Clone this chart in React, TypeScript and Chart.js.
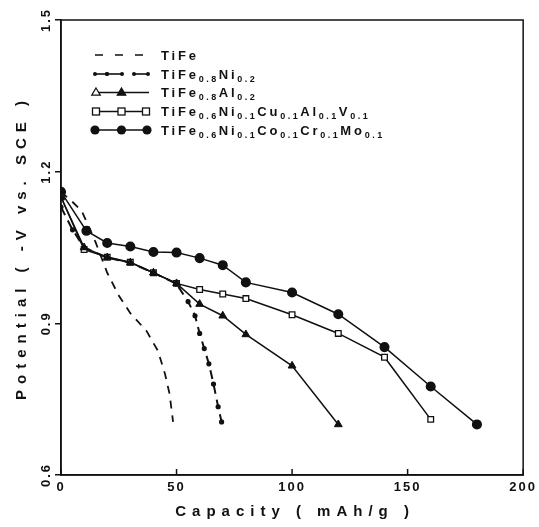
import React, { useEffect, useRef } from "react";
import { Chart, registerables } from "chart.js";

Chart.register(...registerables);

// ---- data ----
const xTickValues = [0, 50, 100, 150, 200];
const yTickValues = [0.6, 0.9, 1.2, 1.5];

const tifeCap = [0, 5, 9, 15, 20, 25, 30, 37, 42, 45, 47, 48.5];
const tifeV = [1.16, 1.14, 1.122, 1.06, 1.0, 0.955, 0.92, 0.885, 0.845, 0.8, 0.76, 0.705];

const niCap = [0, 5, 10, 20, 30, 40, 50, 55, 58, 60, 62, 64, 66, 68, 69.5];
const niV = [1.13, 1.085, 1.05, 1.03, 1.02, 1.0, 0.978, 0.943, 0.915, 0.88, 0.85, 0.82, 0.78, 0.735, 0.705];

const alCap = [0, 10, 20, 30, 40, 50, 60, 70, 80, 100, 120];
const alV = [1.15, 1.05, 1.03, 1.02, 1.0, 0.979, 0.938, 0.915, 0.878, 0.816, 0.7];

const cuCap = [0, 10, 20, 30, 40, 50, 60, 70, 80, 100, 120, 140, 160];
const cuV = [1.15, 1.046, 1.031, 1.021, 1.0, 0.979, 0.967, 0.958, 0.949, 0.917, 0.88, 0.833, 0.71];

const moCap = [0, 11, 20, 30, 40, 50, 60, 70, 80, 100, 120, 140, 160, 180];
const moV = [1.16, 1.083, 1.059, 1.052, 1.041, 1.04, 1.029, 1.015, 0.981, 0.961, 0.918, 0.853, 0.775, 0.7];

const seriesLabels = [
  "TiFe",
  "TiFe_{0.8}Ni_{0.2}",
  "TiFe_{0.8}Al_{0.2}",
  "TiFe_{0.6}Ni_{0.1}Cu_{0.1}Al_{0.1}V_{0.1}",
  "TiFe_{0.6}Ni_{0.1}Co_{0.1}Cr_{0.1}Mo_{0.1}",
];

const xTitle = "Capacity ( mAh/g )";
const yTitle = "Potential ( -V vs. SCE )";

const FONT = '"Liberation Sans", Arial, sans-serif';
const INK = "#111";

function pts(xs: number[], ys: number[]) {
  return xs.map((x, i) => ({ x, y: ys[i] }));
}

function plainLabel(s: string) {
  return s.replace(/_\{([^}]*)\}/g, "$1");
}

function parseLabel(s: string): { t: string; sub: boolean }[] {
  const out: { t: string; sub: boolean }[] = [];
  const re = /_\{([^}]*)\}|([^_]+)/g;
  let m: RegExpExecArray | null;
  while ((m = re.exec(s))) {
    if (m[1] !== undefined) out.push({ t: m[1], sub: true });
    else out.push({ t: m[2], sub: false });
  }
  return out;
}

function drawTri(ctx: CanvasRenderingContext2D, x: number, y: number, r: number, fill: boolean) {
  ctx.beginPath();
  ctx.moveTo(x, y - r);
  ctx.lineTo(x + r * 0.95, y + r * 0.6);
  ctx.lineTo(x - r * 0.95, y + r * 0.6);
  ctx.closePath();
  ctx.fillStyle = fill ? INK : "#fff";
  ctx.fill();
  ctx.stroke();
}

const decorPlugin = {
  id: "decor",
  beforeDraw(chart: any) {
    const ctx = chart.ctx as CanvasRenderingContext2D;
    (ctx as any).letterSpacing = "2px";
  },
  afterDraw(chart: any) {
    const ctx = chart.ctx as CanvasRenderingContext2D;
    const ca = chart.chartArea;
    ctx.save();
    (ctx as any).letterSpacing = "0px";
    ctx.strokeStyle = INK;
    ctx.lineWidth = 1.5;
    ctx.setLineDash([]);
    ctx.strokeRect(ca.left, ca.top, ca.right - ca.left, ca.bottom - ca.top);

    // inward ticks on x axis
    const xs = chart.scales.x;
    xs.ticks.forEach((t: any) => {
      const px = xs.getPixelForValue(t.value);
      ctx.beginPath();
      ctx.moveTo(px, ca.bottom);
      ctx.lineTo(px, ca.bottom - 6);
      ctx.stroke();
    });

    // axis titles
    ctx.fillStyle = INK;
    ctx.font = `bold 15px ${FONT}`;
    (ctx as any).letterSpacing = "6px";
    ctx.textAlign = "center";
    ctx.textBaseline = "middle";
    ctx.fillText(xTitle, (ca.left + ca.right) / 2 + 3, 512);
    ctx.save();
    ctx.translate(22, (ca.top + ca.bottom) / 2 + 3);
    ctx.rotate(-Math.PI / 2);
    ctx.fillText(yTitle, 3, 0);
    ctx.restore();

    // legend
    const rows = [55, 74, 92.5, 111.5, 130];
    const x0 = 95, x1 = 147, tx = 161;
    ctx.lineWidth = 1.6;
    ctx.strokeStyle = INK;
    ctx.fillStyle = INK;
    rows.forEach((ry, i) => {
      ctx.save();
      if (i === 0) {
        ctx.setLineDash([8, 12]);
        ctx.beginPath();
        ctx.moveTo(x0, ry);
        ctx.lineTo(x1, ry);
        ctx.stroke();
      } else if (i === 1) {
        const segs = [[95, 107], [107, 122], [134, 148]];
        segs.forEach(([a, b]) => {
          ctx.beginPath();
          ctx.moveTo(a, ry);
          ctx.lineTo(b, ry);
          ctx.stroke();
          [a, b].forEach((d) => {
            ctx.beginPath();
            ctx.arc(d, ry, 2, 0, Math.PI * 2);
            ctx.fill();
          });
        });
      } else if (i === 2) {
        ctx.beginPath();
        ctx.moveTo(x0, ry);
        ctx.lineTo(x1 + 2, ry);
        ctx.stroke();
        ctx.lineWidth = 1.2;
        drawTri(ctx, 96, ry, 4.5, false);
        drawTri(ctx, 121.5, ry, 4.5, true);
      } else if (i === 3) {
        ctx.beginPath();
        ctx.moveTo(x0, ry);
        ctx.lineTo(x1, ry);
        ctx.stroke();
        ctx.lineWidth = 1.3;
        [96, 121.5, 146].forEach((cx) => {
          ctx.fillStyle = "#fff";
          ctx.fillRect(cx - 3.5, ry - 3.5, 7, 7);
          ctx.strokeRect(cx - 3.5, ry - 3.5, 7, 7);
        });
      } else {
        ctx.beginPath();
        ctx.moveTo(x0, ry);
        ctx.lineTo(x1, ry);
        ctx.stroke();
        [95, 121.5, 147].forEach((cx) => {
          ctx.beginPath();
          ctx.arc(cx, ry, 4.6, 0, Math.PI * 2);
          ctx.fill();
        });
      }
      ctx.restore();

      // label text with subscripts
      let cx = tx;
      ctx.fillStyle = INK;
      ctx.textAlign = "left";
      ctx.textBaseline = "alphabetic";
      parseLabel(seriesLabels[i]).forEach((p) => {
        if (p.sub) {
          ctx.font = `bold 9px ${FONT}`;
          (ctx as any).letterSpacing = "2.5px";
          ctx.fillText(p.t, cx, ry + 7.5);
        } else {
          ctx.font = `bold 13px ${FONT}`;
          (ctx as any).letterSpacing = "2.8px";
          ctx.fillText(p.t, cx, ry + 4.5);
        }
        cx += ctx.measureText(p.t).width;
      });
    });
    ctx.restore();
  },
};

export default function App() {
  const ref = useRef<HTMLCanvasElement | null>(null);

  useEffect(() => {
    document.body.style.margin = "0";
    const canvas = ref.current;
    if (!canvas) return;
    const base = { borderColor: INK, backgroundColor: INK, tension: 0, fill: false };
    const chart = new Chart(canvas, {
      type: "line",
      data: {
        datasets: [
          {
            ...base,
            label: plainLabel(seriesLabels[0]),
            data: pts(tifeCap, tifeV),
            borderWidth: 1.8,
            borderDash: [8, 7],
            pointRadius: 0,
          },
          {
            ...base,
            label: plainLabel(seriesLabels[1]),
            data: pts(niCap, niV),
            borderWidth: 2,
            borderDash: [9, 6],
            pointRadius: 1.6,
            pointStyle: "circle",
          },
          {
            ...base,
            label: plainLabel(seriesLabels[2]),
            data: pts(alCap, alV),
            borderWidth: 1.5,
            pointStyle: "triangle",
            pointRadius: 4.5,
            pointBorderWidth: 1,
          },
          {
            ...base,
            label: plainLabel(seriesLabels[3]),
            data: pts(cuCap, cuV),
            borderWidth: 1.5,
            pointStyle: "rect",
            pointRadius: 4,
            pointBackgroundColor: "#fff",
            pointBorderColor: INK,
            pointBorderWidth: 1.3,
          },
          {
            ...base,
            label: plainLabel(seriesLabels[4]),
            data: pts(moCap, moV),
            borderWidth: 1.5,
            pointStyle: "circle",
            pointRadius: 4.3,
          },
        ],
      },
      options: {
        animation: false,
        responsive: false,
        devicePixelRatio: 1,
        layout: { padding: { top: 20, right: 13, left: 0, bottom: 0 } },
        plugins: { legend: { display: false }, tooltip: { enabled: false } },
        scales: {
          x: {
            type: "linear",
            min: 0,
            max: 200,
            afterBuildTicks: (s: any) => {
              s.ticks = xTickValues.map((v) => ({ value: v }));
            },
            afterFit: (s: any) => {
              s.height = 52;
            },
            grid: { display: true, drawOnChartArea: false, drawTicks: false, color: INK },
            border: { display: true, color: INK, width: 1.5 },
            ticks: {
              color: INK,
              padding: 5,
              maxRotation: 0,
              font: { family: FONT, size: 13, weight: "bold" },
            },
          },
          y: {
            type: "linear",
            min: 0.6,
            max: 1.5,
            afterBuildTicks: (s: any) => {
              s.ticks = yTickValues.map((v) => ({ value: v }));
            },
            afterFit: (s: any) => {
              s.width = 61;
            },
            grid: { display: true, drawOnChartArea: false, drawTicks: true, tickLength: 6, color: INK, lineWidth: 1.5 },
            border: { display: true, color: INK, width: 1.5 },
            ticks: {
              color: INK,
              padding: 0,
              minRotation: 90,
              maxRotation: 90,
              crossAlign: "center",
              font: { family: FONT, size: 13, weight: "bold" },
              callback: (v: any) => Number(v).toFixed(1),
            },
          },
        },
      },
      plugins: [decorPlugin],
    } as any);
    return () => chart.destroy();
  }, []);

  return (
    <canvas ref={ref} width={539} height={527} style={{ display: "block", width: 539, height: 527 }} />
  );
}
